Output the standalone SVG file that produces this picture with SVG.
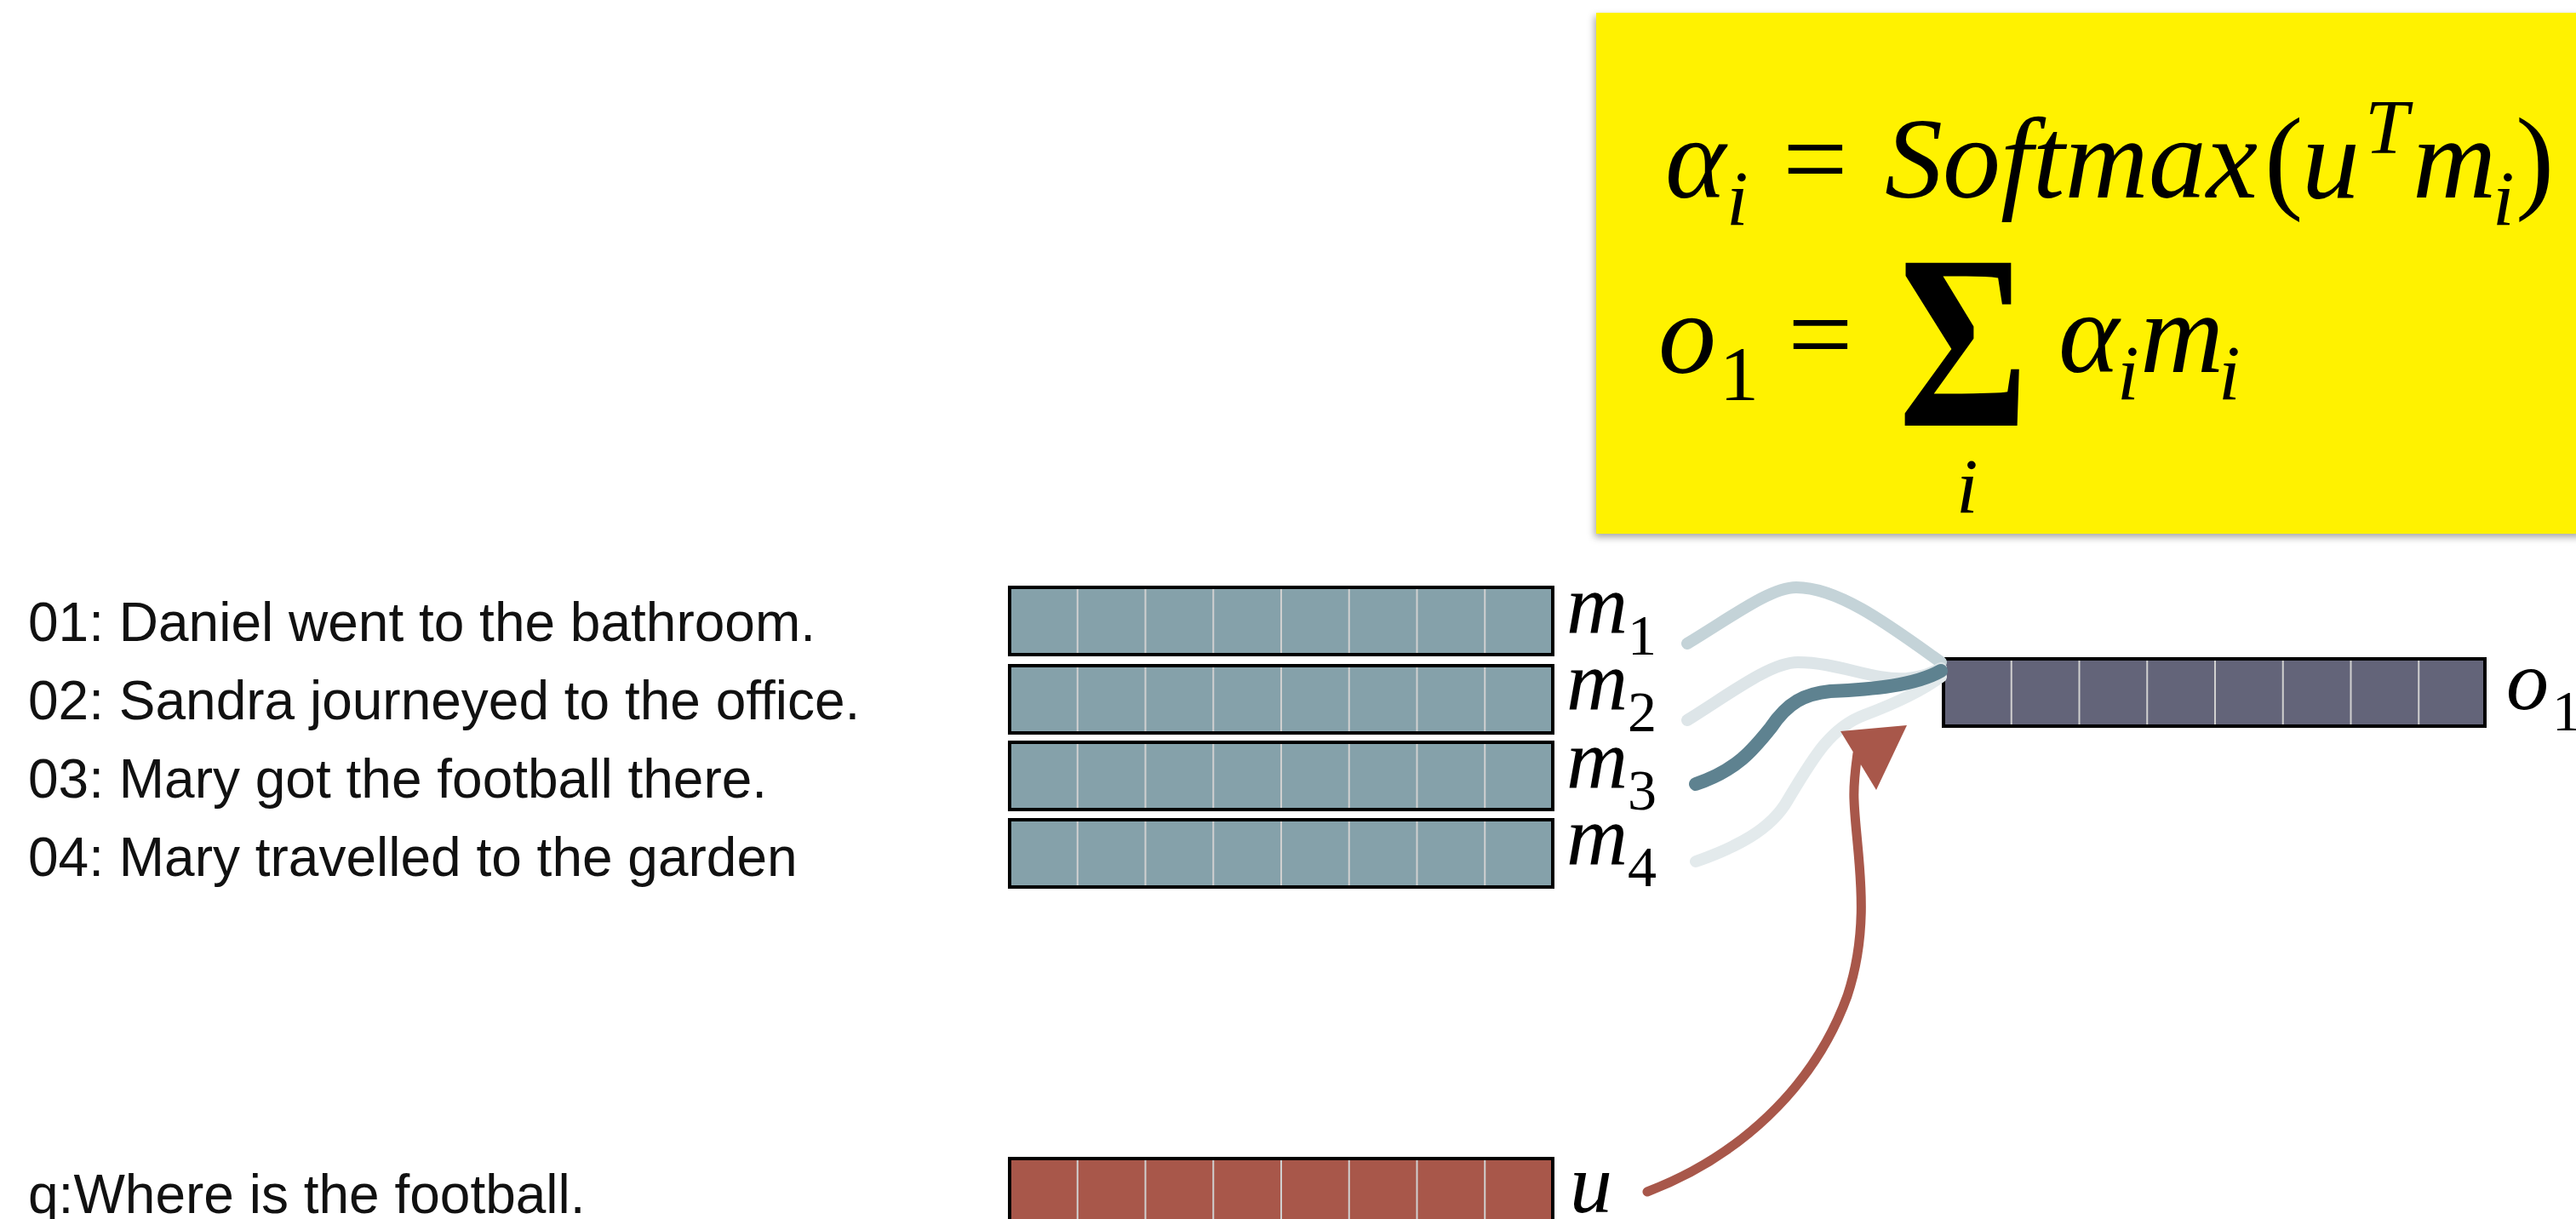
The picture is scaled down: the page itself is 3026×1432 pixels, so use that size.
<svg xmlns="http://www.w3.org/2000/svg" width="3026" height="1432" viewBox="0 0 3026 1432">
<style>
.sent{font-family:"Liberation Sans",Arial,sans-serif;font-size:64px;fill:#111}
.mi{font-family:"Liberation Serif","Times New Roman",serif;font-style:italic;fill:#000}
.mu{font-family:"Liberation Serif","Times New Roman",serif;fill:#000}
.big{font-size:136px}
.sub{font-size:92px}
.lab{font-size:100px}
.lsub{font-size:68px}
.vec{stroke:#000;stroke-width:4}
.div{stroke:#d0d0d0;stroke-width:2}
.brush{fill:none;stroke-linecap:round;stroke-linejoin:round}
</style>
<defs>
<filter id="shadow" x="-5%" y="-5%" width="110%" height="115%">
<feDropShadow dx="-2" dy="4" stdDeviation="4" flood-color="#000" flood-opacity="0.35"/>
</filter>
<g id="cells">
<line x1="79.75" y1="2" x2="79.75" y2="77" class="div"/>
<line x1="159.5" y1="2" x2="159.5" y2="77" class="div"/>
<line x1="239.25" y1="2" x2="239.25" y2="77" class="div"/>
<line x1="319" y1="2" x2="319" y2="77" class="div"/>
<line x1="398.75" y1="2" x2="398.75" y2="77" class="div"/>
<line x1="478.5" y1="2" x2="478.5" y2="77" class="div"/>
<line x1="558.25" y1="2" x2="558.25" y2="77" class="div"/>
</g>
</defs>
<rect width="3026" height="1432" fill="#fff"/>

<g id="formula">
<rect x="1875" y="15" width="1160" height="612" fill="#fff200" filter="url(#shadow)"/>
<text class="mi big" x="1956" y="232">α</text>
<text class="mi sub" x="2028" y="264">i</text>
<text class="mu big" x="2094" y="232">=</text>
<text class="mi big" x="2214" y="232">Softmax</text>
<text class="mu big" x="2660" y="232">(</text>
<text class="mi big" x="2704" y="232">u</text>
<text class="mi sub" x="2778" y="180">T</text>
<text class="mi big" x="2834" y="232">m</text>
<text class="mi sub" x="2928" y="264">i</text>
<text class="mu big" x="2955" y="232">)</text>
<text class="mi big" x="1948" y="438">o</text>
<text class="mu sub" x="2020" y="470">1</text>
<text class="mu big" x="2100" y="438">=</text>
<text class="mu" font-size="292" font-weight="bold" transform="translate(2230,500) scale(0.8,1)" x="0" y="0">Σ</text>
<text class="mi sub" x="2298" y="602">i</text>
<text class="mi big" x="2418" y="437">α</text>
<text class="mi sub" x="2487" y="469">i</text>
<text class="mi big" x="2514" y="437">m</text>
<text class="mi sub" x="2606" y="469">i</text>
</g>

<g id="sentences">
<text class="sent" x="33" y="753">01: Daniel went to the bathroom.</text>
<text class="sent" x="33" y="845">02: Sandra journeyed to the office.</text>
<text class="sent" x="33" y="937">03: Mary got the football there.</text>
<text class="sent" x="33" y="1029">04: Mary travelled to the garden</text>
</g>
<g id="question">
<text class="sent" x="33" y="1425">q:Where is the football.</text>
</g>

<g id="m1">
<rect class="vec" x="1186" y="690" width="638" height="79" fill="#85a1aa"/>
<use href="#cells" x="1186" y="690"/>
<text class="mi lab" x="1840" y="743">m</text>
<text class="mu lsub" x="1912" y="769">1</text>
</g>
<g id="m2">
<rect class="vec" x="1186" y="782" width="638" height="79" fill="#85a1aa"/>
<use href="#cells" x="1186" y="782"/>
<text class="mi lab" x="1840" y="833">m</text>
<text class="mu lsub" x="1912" y="859">2</text>
</g>
<g id="m3">
<rect class="vec" x="1186" y="872" width="638" height="79" fill="#85a1aa"/>
<use href="#cells" x="1186" y="872"/>
<text class="mi lab" x="1840" y="925">m</text>
<text class="mu lsub" x="1912" y="951">3</text>
</g>
<g id="m4">
<rect class="vec" x="1186" y="963" width="638" height="79" fill="#85a1aa"/>
<use href="#cells" x="1186" y="963"/>
<text class="mi lab" x="1840" y="1015">m</text>
<text class="mu lsub" x="1912" y="1041">4</text>
</g>

<g id="o1">
<rect class="vec" x="2283" y="774" width="636" height="79" fill="#636479"/>
<use href="#cells" x="2283" y="774"/>
<text class="mi lab" x="2944" y="833">o</text>
<text class="mu lsub" x="2998" y="858">1</text>
</g>

<g id="u">
<rect class="vec" x="1186" y="1361" width="638" height="79" fill="#a8574a"/>
<use href="#cells" x="1186" y="1361"/>
<text class="mi lab" x="1844" y="1424">u</text>
</g>

<g id="connectors">
<path class="brush" stroke="#c4d3d8" stroke-width="14" d="M1982,756 C2035,724 2080,690 2110,690 C2160,690 2220,735 2280,778"/>
<path class="brush" stroke="#dde5e8" stroke-width="14" d="M1982,846 C2032,815 2080,778 2112,778 C2160,778 2200,800 2240,797 C2260,795 2270,790 2280,785"/>
<path class="brush" stroke="#e3eaec" stroke-width="14" d="M1992,1012 C2040,995 2080,975 2100,940 C2130,890 2150,855 2190,840 C2230,825 2260,810 2280,795"/>
<path class="brush" stroke="#5e8290" stroke-width="16" d="M1992,921 C2040,905 2060,880 2080,855 C2100,825 2120,815 2150,812 C2200,810 2250,805 2280,788"/>
<path class="brush" stroke="#a8574a" stroke-width="11" d="M1935,1400 C2040,1360 2130,1280 2170,1170 C2200,1080 2180,1000 2178,940 C2177,920 2180,900 2182,885"/>
<polygon points="2162,859 2240,852 2204,928" fill="#a8574a"/>
</g>
</svg>
